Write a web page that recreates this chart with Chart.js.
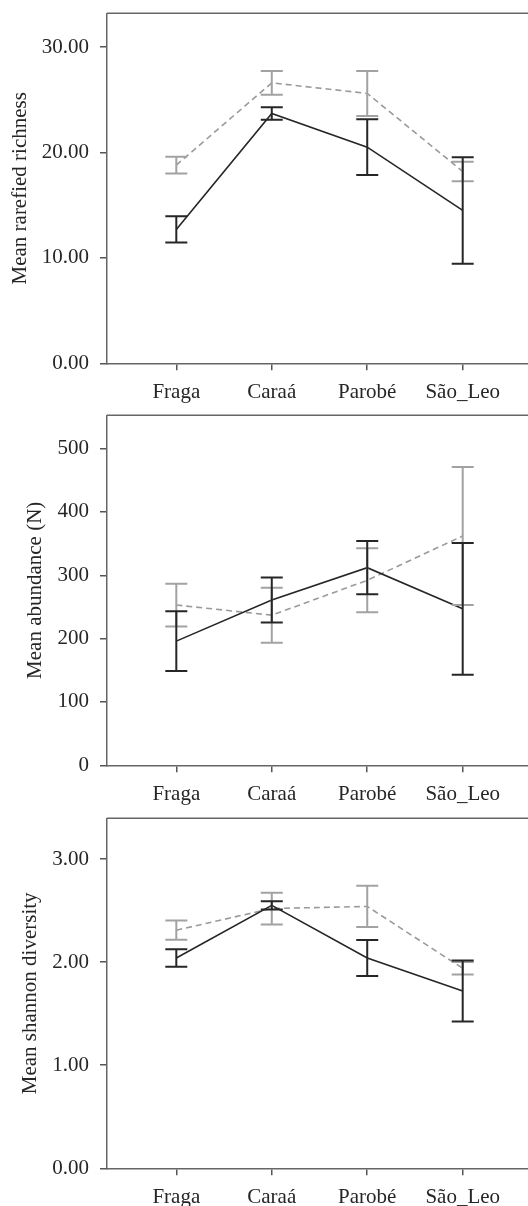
<!DOCTYPE html>
<html>
<head>
<meta charset="utf-8">
<script src="https://cdn.jsdelivr.net/npm/chart.js@4.4.1/dist/chart.umd.min.js"></script>
<style>
  html, body { margin: 0; padding: 0; background: #fff; overflow: hidden; }
  body { width: 528px; height: 1206px; position: relative; }
  canvas { position: absolute; left: 0; }
</style>
</head>
<body>
<canvas id="richnessChart" width="528" height="410" style="top:0px"></canvas>
<canvas id="abundanceChart" width="528" height="410" style="top:402.4px"></canvas>
<canvas id="shannonChart" width="528" height="410" style="top:805px"></canvas>
<script>
// sites on the x axis
const categories = ['Fraga', 'Caraá', 'Parobé', 'São_Leo'];

// rarefied richness (black = solid, grey = dashed)
const richnessBlack    = [12.7, 23.7, 20.5, 14.5];
const richnessBlackErr = [1.25, 0.6, 2.65, 5.05];
const richnessGrey     = [18.8, 26.6, 25.6, 18.2];
const richnessGreyErr  = [0.8, 1.12, 2.13, 0.92];
const richnessTicks    = [0, 10, 20, 30];

// abundance
const abundanceBlack    = [196, 261, 312, 247];
const abundanceBlackErr = [47, 35.5, 42, 104];
const abundanceGrey     = [253, 237, 292, 362];
const abundanceGreyErr  = [33.7, 43.4, 50.5, 109];
const abundanceTicks    = [0, 100, 200, 300, 400, 500];

// shannon diversity
const shannonBlack    = [2.04, 2.55, 2.04, 1.72];
const shannonBlackErr = [0.085, 0.04, 0.175, 0.295];
const shannonGrey     = [2.31, 2.52, 2.54, 1.94];
const shannonGreyErr  = [0.094, 0.154, 0.2, 0.06];
const shannonTicks    = [0, 1, 2, 3];

const FONT = "'Liberation Serif', 'Times New Roman', serif";

// error bars + top line of the box
const errorBars = {
    id: 'errorBars',
    afterDatasetsDraw(chart) {
        const ctx = chart.ctx;
        const x = chart.scales.x, y = chart.scales.y;
        // grey first so black ends on top
        for (let d = chart.data.datasets.length - 1; d >= 0; d--) {
            const ds = chart.data.datasets[d];
            ctx.save();
            ctx.strokeStyle = ds.barColor;
            ctx.lineWidth = 2;
            ds.data.forEach((p, i) => {
                const px = x.getPixelForValue(p.x);
                const top = y.getPixelForValue(p.y + ds.errors[i]);
                const bot = y.getPixelForValue(p.y - ds.errors[i]);
                ctx.beginPath();
                ctx.moveTo(px, top); ctx.lineTo(px, bot);
                ctx.moveTo(px - 11, top); ctx.lineTo(px + 11, top);
                ctx.moveTo(px - 11, bot); ctx.lineTo(px + 11, bot);
                ctx.stroke();
            });
            ctx.restore();
        }
        const a = chart.chartArea;
        ctx.save();
        ctx.strokeStyle = '#666';
        ctx.lineWidth = 1.5;
        ctx.beginPath();
        ctx.moveTo(a.left, a.top);
        ctx.lineTo(a.right, a.top);
        ctx.stroke();
        ctx.restore();
    }
};

function toPoints(vals) {
    return vals.map((v, i) => ({ x: i + 1, y: v }));
}

function makePanel(id, title, black, blackErr, grey, greyErr, ticks, yMax, decimals, titlePad) {
    new Chart(document.getElementById(id), {
        type: 'line',
        data: {
            datasets: [{
                data: toPoints(black),
                errors: blackErr,
                barColor: '#262626',
                borderColor: '#262626',
                borderWidth: 1.6,
                pointRadius: 0,
                tension: 0
            }, {
                data: toPoints(grey),
                errors: greyErr,
                barColor: '#a2a2a2',
                borderColor: '#9a9a9a',
                borderWidth: 1.6,
                borderDash: [6, 4],
                pointRadius: 0,
                tension: 0
            }]
        },
        options: {
            responsive: false,
            animation: false,
            events: [],
            layout: { padding: { top: 13.3, left: 0, right: 0, bottom: 0 } },
            plugins: { legend: { display: false }, tooltip: { enabled: false } },
            scales: {
                x: {
                    type: 'linear',
                    min: 0.274,
                    max: 4.684,
                    afterBuildTicks: s => { s.ticks = categories.map((c, i) => ({ value: i + 1 })); },
                    afterFit: s => { s.height = 46.7; s.paddingLeft = 0; s.paddingRight = 0; },
                    ticks: {
                        autoSkip: false,
                        maxRotation: 0,
                        padding: 10,
                        color: '#262626',
                        font: { family: FONT, size: 21 },
                        callback: v => categories[v - 1]
                    },
                    grid: { drawOnChartArea: false, tickLength: 7, color: '#555', lineWidth: 1.5 },
                    border: { color: '#666', width: 1.5 }
                },
                y: {
                    min: 0,
                    max: yMax,
                    afterBuildTicks: s => { s.ticks = ticks.map(v => ({ value: v })); },
                    afterFit: s => { s.width = 107; s.paddingTop = 0; s.paddingBottom = 0; },
                    ticks: {
                        padding: 11,
                        color: '#262626',
                        font: { family: FONT, size: 21 },
                        callback: v => v.toFixed(decimals)
                    },
                    grid: { drawOnChartArea: false, tickLength: 7, color: '#555', lineWidth: 1.5 },
                    border: { color: '#666', width: 1.5 },
                    title: {
                        display: true,
                        text: title,
                        color: '#262626',
                        font: { family: FONT, size: 21 },
                        padding: { top: titlePad, bottom: 0 }
                    }
                }
            }
        },
        plugins: [errorBars]
    });
}

makePanel('richnessChart', 'Mean rarefied richness', richnessBlack, richnessBlackErr,
          richnessGrey, richnessGreyErr, richnessTicks, 33.2, 2, 7.4);
makePanel('abundanceChart', 'Mean abundance (N)', abundanceBlack, abundanceBlackErr,
          abundanceGrey, abundanceGreyErr, abundanceTicks, 552.5, 0, 22.4);
makePanel('shannonChart', 'Mean shannon diversity', shannonBlack, shannonBlackErr,
          shannonGrey, shannonGreyErr, shannonTicks, 3.395, 2, 17.9);
</script>
</body>
</html>
